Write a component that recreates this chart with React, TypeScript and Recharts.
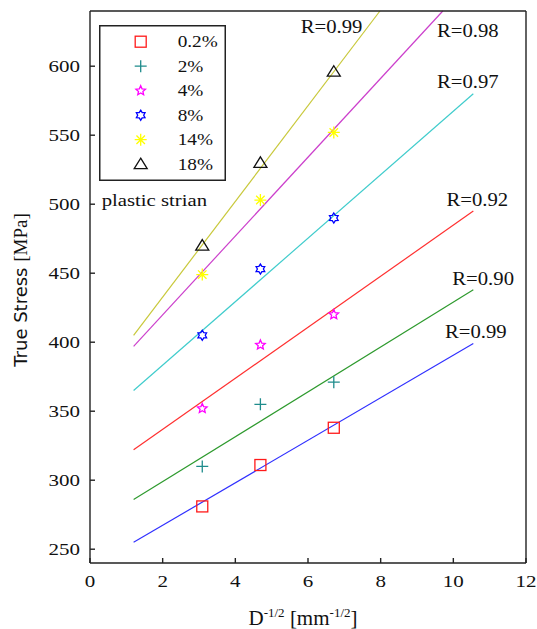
import React from 'react'
import { ComposedChart, Line, Scatter, XAxis, YAxis, Legend, ReferenceDot } from 'recharts'

// D^-1/2 of the three grain sizes
const grainX = [3.09, 4.69, 6.71]

// true stress (MPa) per plastic strain
const strain02 = [281, 311, 338]
const strain2 = [310, 355, 371]
const strain4 = [352, 398, 420]
const strain8 = [405, 453, 490]
const strain14 = [449, 503, 552]
const strain18 = [470, 530, 596]

// Hall-Petch fits, start and end point
const fit02 = [[1.2, 255], [10.55, 399]]
const fit2 = [[1.2, 286], [10.55, 438]]
const fit4 = [[1.2, 322], [10.55, 495]]
const fit8 = [[1.2, 365], [10.55, 580]]
const fit14 = [[1.2, 397], [9.71, 640]]
const fit18 = [[1.2, 405], [7.98, 640]]

const rValues = ['R=0.99', 'R=0.90', 'R=0.92', 'R=0.97', 'R=0.98', 'R=0.99']
const rLabelAt = [[10.62, 407.5], [10.82, 446.5], [10.66, 503.7], [10.4, 588.8], [10.4, 625.8], [6.65, 628.7]]

const xTicks = [0, 2, 4, 6, 8, 10, 12]
const yTicks = [250, 300, 350, 400, 450, 500, 550, 600]

const SERIF = '"Liberation Serif", "Times New Roman", serif'
const AXIS = '#222'

type MarkerKind = 'square' | 'plus' | 'star' | 'hexagram' | 'asterisk' | 'triangle'

const SERIES: { name: string; values: number[]; marker: MarkerKind; color: string; fit: number[][]; fitColor: string }[] = [
  { name: '0.2%', values: strain02, marker: 'square', color: '#ff1a1a', fit: fit02, fitColor: '#3030ff' },
  { name: '2%', values: strain2, marker: 'plus', color: '#1f8c8c', fit: fit2, fitColor: '#2e9a2e' },
  { name: '4%', values: strain4, marker: 'star', color: '#ff00ff', fit: fit4, fitColor: '#ff3030' },
  { name: '8%', values: strain8, marker: 'hexagram', color: '#0000ff', fit: fit8, fitColor: '#40cccc' },
  { name: '14%', values: strain14, marker: 'asterisk', color: '#ffff00', fit: fit14, fitColor: '#cc40cc' },
  { name: '18%', values: strain18, marker: 'triangle', color: '#111111', fit: fit18, fitColor: '#c8c83a' },
]

function starPoints(cx: number, cy: number, n: number, outer: number, inner: number) {
  const pts: string[] = []
  for (let i = 0; i < n * 2; i++) {
    const r = i % 2 === 0 ? outer : inner
    const a = -Math.PI / 2 + (i * Math.PI) / n
    pts.push(`${cx + r * Math.cos(a)},${cy + r * Math.sin(a)}`)
  }
  return pts.join(' ')
}

function Marker({ kind, color, cx, cy }: { kind: MarkerKind; color: string; cx: number; cy: number }) {
  const sw = 1.3
  switch (kind) {
    case 'square':
      return <rect x={cx - 5.5} y={cy - 5.5} width={11} height={11} fill="none" stroke={color} strokeWidth={sw} />
    case 'plus':
      return <path d={`M${cx - 6},${cy}H${cx + 6}M${cx},${cy - 6}V${cy + 6}`} stroke={color} strokeWidth={sw} fill="none" />
    case 'star':
      return <polygon points={starPoints(cx, cy, 5, 5, 2.3)} fill="none" stroke={color} strokeWidth={sw} />
    case 'hexagram':
      return <polygon points={starPoints(cx, cy, 6, 5, 3)} fill="none" stroke={color} strokeWidth={sw} />
    case 'asterisk': {
      const d = [0, 45, 90, 135]
        .map((deg) => {
          const a = (deg * Math.PI) / 180
          const dx = 6 * Math.cos(a)
          const dy = 6 * Math.sin(a)
          return `M${cx - dx},${cy - dy}L${cx + dx},${cy + dy}`
        })
        .join('')
      return <path d={d} stroke={color} strokeWidth={sw} fill="none" />
    }
    case 'triangle':
      return <polygon points={`${cx},${cy - 6} ${cx + 6.5},${cy + 4.5} ${cx - 6.5},${cy + 4.5}`} fill="none" stroke={color} strokeWidth={sw} />
  }
}

// the source picture is stretched sideways, so the text is too
function WideText({ x, y, sx, size, anchor = 'start', children }: any) {
  return (
    <text
      transform={`translate(${x},${y}) scale(${sx},1)`}
      textAnchor={anchor}
      dominantBaseline="central"
      fontFamily={SERIF}
      fontSize={size}
      fill="#111"
    >
      {children}
    </text>
  )
}

const XTick = ({ x, y, payload }: any) => (
  <WideText x={x} y={y} sx={1.2} size={17.5} anchor="middle">{payload.value}</WideText>
)

const YTick = ({ x, y, payload }: any) => (
  <WideText x={x} y={y} sx={1.2} size={17.5} anchor="end">{payload.value}</WideText>
)

function LegendBox() {
  return (
    <svg width={150} height={190} style={{ display: 'block', overflow: 'visible' }}>
      <rect x={0.75} y={0.75} width={125.5} height={154.5} fill="#fff" stroke={AXIS} strokeWidth={1.5} />
      {SERIES.map((s, i) => (
        <g key={s.name}>
          <Marker kind={s.marker} color={s.color} cx={41.7} cy={16.7 + i * 24.5} />
          <WideText x={78.7} y={16.7 + i * 24.5} sx={1.1} size={17.5}>{s.name}</WideText>
        </g>
      ))}
      <text transform="translate(2.7,181) scale(1.22,1)" fontFamily={SERIF} fontSize={17} fill="#111">
        plastic strian
      </text>
    </svg>
  )
}

export default function App() {
  return (
    <div style={{ position: 'absolute', left: 0, top: 0, background: '#fff' }}>
      <ComposedChart width={537} height={629} margin={{ top: 10, right: 10, bottom: 26, left: 0 }}>
        <XAxis
          type="number"
          dataKey="x"
          domain={[0, 12]}
          ticks={xTicks}
          height={40}
          stroke={AXIS}
          strokeWidth={1.4}
          tickSize={-5}
          tickMargin={23}
          tick={<XTick />}
          label={{
            content: (p: any) => {
              const vb = p.viewBox
              return (
                <text x={vb.x + vb.width / 2 - 5} y={625} textAnchor="middle" fontFamily={SERIF} fontSize={21} fill="#111">
                  D<tspan dy={-8} fontSize={13}>-1/2</tspan>
                  <tspan dy={8}> [mm</tspan>
                  <tspan dy={-8} fontSize={13}>-1/2</tspan>
                  <tspan dy={8}>]</tspan>
                </text>
              )
            },
          }}
        />
        <XAxis
          xAxisId="top"
          orientation="top"
          type="number"
          domain={[0, 12]}
          ticks={xTicks}
          height={1}
          stroke={AXIS}
          strokeWidth={1.4}
          tickSize={-5}
          tick={false}
        />
        <YAxis
          type="number"
          domain={[240, 640]}
          ticks={yTicks}
          width={90}
          stroke={AXIS}
          strokeWidth={1.4}
          tickSize={-5}
          tickMargin={15}
          tick={<YTick />}
          label={{
            content: (p: any) => {
              const vb = p.viewBox
              return (
                <text
                  transform={`translate(${vb.x + 27},${vb.y + vb.height / 2 + 3}) rotate(-90)`}
                  textAnchor="middle"
                  fontSize={18}
                  fill="#111"
                >
                  <tspan fontFamily='"DejaVu Sans", sans-serif'>True Stress </tspan>
                  <tspan fontFamily={SERIF} fontSize={19}>[MPa]</tspan>
                </text>
              )
            },
          }}
        />
        <YAxis
          yAxisId="right"
          orientation="right"
          type="number"
          domain={[240, 640]}
          ticks={yTicks}
          width={1}
          stroke={AXIS}
          strokeWidth={1.4}
          tickSize={-5}
          tick={false}
        />

        {SERIES.map((s) => (
          <Line
            key={`fit-${s.name}`}
            data={s.fit.map(([x, y]) => ({ x, y }))}
            dataKey="y"
            type="linear"
            stroke={s.fitColor}
            strokeWidth={1.2}
            dot={false}
            activeDot={false}
            isAnimationActive={false}
          />
        ))}

        {SERIES.map((s) => (
          <Scatter
            key={`pts-${s.name}`}
            name={s.name}
            data={grainX.map((x, i) => ({ x, y: s.values[i] }))}
            dataKey="y"
            isAnimationActive={false}
            shape={(p: any) => <Marker kind={s.marker} color={s.color} cx={p.cx} cy={p.cy} />}
          />
        ))}

        {rValues.map((r, i) => (
          <ReferenceDot
            key={`r-${i}`}
            x={rLabelAt[i][0]}
            y={rLabelAt[i][1]}
            r={0}
            shape={(p: any) => (
              <WideText x={p.cx} y={p.cy} sx={1.12} size={18.5} anchor="middle">{r}</WideText>
            )}
          />
        ))}

        <Legend
          layout="vertical"
          align="center"
          verticalAlign="middle"
          wrapperStyle={{ left: 99, top: 25, width: 150, height: 190 }}
          content={() => <LegendBox />}
        />
      </ComposedChart>
    </div>
  )
}
